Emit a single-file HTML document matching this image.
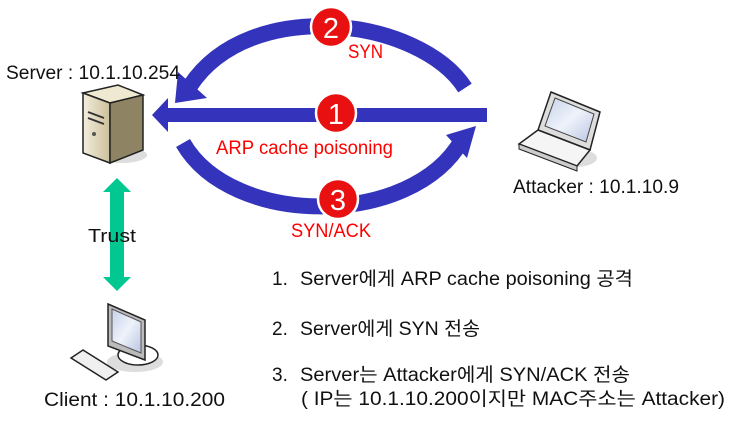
<!DOCTYPE html>
<html><head><meta charset="utf-8"><style>
html,body{margin:0;padding:0;background:#fff;}
svg{display:block;}
text{font-family:"Liberation Sans","Noto Sans CJK KR",sans-serif;}
</style></head><body>
<svg width="740" height="423" viewBox="0 0 740 423" xmlns="http://www.w3.org/2000/svg">
<defs>
<linearGradient id="srv" x1="0" y1="0" x2="1" y2="0"><stop offset="0" stop-color="#f3eedd"/><stop offset="1" stop-color="#cbbf9a"/></linearGradient>
<linearGradient id="scr" x1="0" y1="0" x2="1" y2="1"><stop offset="0" stop-color="#c7d3ea"/><stop offset="0.5" stop-color="#eef2fa"/><stop offset="1" stop-color="#b9c6e2"/></linearGradient>
</defs>
<path d="M465,88 C420,18 250,-5 190,86" fill="none" stroke="#3333bb" stroke-width="16"/>
<polygon points="175,103 178,72 207,98" fill="#3333bb"/>
<rect x="165" y="108" width="322" height="14" fill="#3333bb"/>
<polygon points="152,115 168,98 168,132" fill="#3333bb"/>
<path d="M183,143 C232,228 412,228 462,140" fill="none" stroke="#3333bb" stroke-width="16"/>
<polygon points="476,126 446,135 467,158" fill="#3333bb"/>
<g stroke="#fff" stroke-width="2.5" fill="#e81010">
<circle cx="331" cy="27" r="20"/><circle cx="336" cy="113" r="20"/><circle cx="338" cy="199" r="20"/>
</g>
<g fill="#fff" font-size="29" text-anchor="middle">
<text x="331" y="38">2</text><text x="336" y="124">1</text><text x="338" y="210">3</text>
</g>
<g fill="#ff0000" font-size="19">
<text x="348" y="58" textLength="35" lengthAdjust="spacingAndGlyphs">SYN</text>
<text x="216" y="154" textLength="177" lengthAdjust="spacingAndGlyphs">ARP cache poisoning</text>
<text x="291" y="237" textLength="80" lengthAdjust="spacingAndGlyphs">SYN/ACK</text>
</g>
<ellipse cx="122" cy="155" rx="25" ry="8" fill="#ddd"/>
<polygon points="83,93 118,85 143,95 110,103" fill="#efe9d2" stroke="#222" stroke-width="1.5"/>
<polygon points="83,93 110,103 110,163 83,153" fill="url(#srv)" stroke="#222" stroke-width="1.5"/>
<polygon points="110,103 143,95 143,150 110,163" fill="#8e8464" stroke="#222" stroke-width="1.5"/>
<line x1="88" y1="112" x2="104" y2="118" stroke="#333" stroke-width="2"/>
<line x1="88" y1="118" x2="104" y2="124" stroke="#333" stroke-width="2"/>
<circle cx="94" cy="134" r="2" fill="#555"/>
<ellipse cx="575" cy="158" rx="22" ry="9" fill="#ddd"/>
<polygon points="551,92 600,112 590,150 538,130" fill="#ddd" stroke="#222" stroke-width="1.5"/>
<polygon points="555,98 594,114 586,142 545,126" fill="url(#scr)" stroke="#444"/>
<polygon points="519,144 538,130 590,150 577,166" fill="#f5f5f5" stroke="#222" stroke-width="1.5"/>
<polygon points="519,144 577,166 577,171 519,149" fill="#ccc" stroke="#222" stroke-width="1"/>
<polygon points="117,178 131,192 124,192 124,277 131,277 117,291 103,277 110,277 110,192 103,192" fill="#00c890"/>
<text x="88" y="242" font-size="18" fill="#111" textLength="48" lengthAdjust="spacingAndGlyphs">Trust</text>
<ellipse cx="135" cy="362" rx="28" ry="10" fill="#ddd"/>
<ellipse cx="138" cy="355" rx="20" ry="10" fill="#fff" stroke="#222" stroke-width="1.5"/>
<polygon points="108,304 145,320 145,360 108,346" fill="#bbb" stroke="#222" stroke-width="1.5"/>
<polygon points="112,309 141,322 141,353 112,341" fill="url(#scr)" stroke="#555"/>
<polygon points="71,358 83,350 118,372 106,380" fill="#f0f0f0" stroke="#222" stroke-width="1.5"/>
<g fill="#111" font-size="19">
<text x="6" y="79" textLength="174" lengthAdjust="spacingAndGlyphs">Server : 10.1.10.254</text>
<text x="513" y="193" textLength="166" lengthAdjust="spacingAndGlyphs">Attacker : 10.1.10.9</text>
<text x="44" y="406" textLength="181" lengthAdjust="spacingAndGlyphs">Client : 10.1.10.200</text>
<text x="272" y="285">1.</text>
<text x="300" y="285" textLength="333" lengthAdjust="spacingAndGlyphs">Server에게 ARP cache poisoning 공격</text>
<text x="272" y="335">2.</text>
<text x="300" y="335" textLength="180" lengthAdjust="spacingAndGlyphs">Server에게 SYN 전송</text>
<text x="272" y="381">3.</text>
<text x="300" y="381" textLength="330" lengthAdjust="spacingAndGlyphs">Server는 Attacker에게 SYN/ACK 전송</text>
<text x="301" y="405" textLength="424" lengthAdjust="spacingAndGlyphs">( IP는 10.1.10.200이지만 MAC주소는 Attacker)</text>
</g>
</svg>
</body></html>
